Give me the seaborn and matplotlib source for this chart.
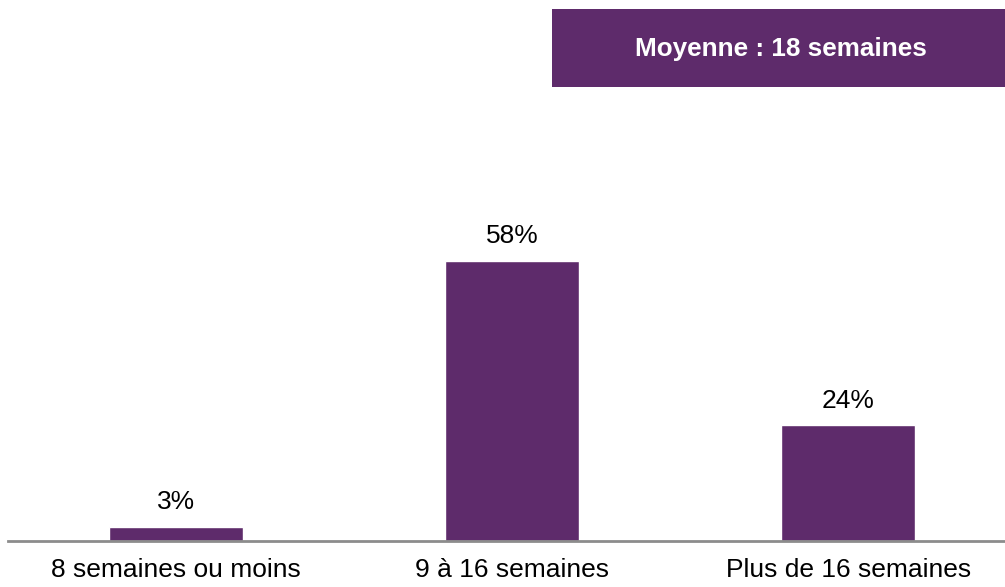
import matplotlib
matplotlib.use("Agg")
import matplotlib.pyplot as plt
import seaborn as sns
import pandas as pd

# Data
categories = ['8 semaines ou moins', '9 à 16 semaines', 'Plus de 16 semaines']
values = [3, 58, 24]
box_text = 'Moyenne : 18 semaines'

purple = '#5E2B6B'

sns.set_theme(style='white')
plt.rcParams['font.family'] = ['Liberation Sans', 'DejaVu Sans']

df = pd.DataFrame({'cat': categories, 'val': values})

fig = plt.figure(figsize=(10.05, 5.87), dpi=100)
ax = fig.add_axes([8 / 1005, 46 / 587, 997 / 1005, 483 / 587])

sns.barplot(data=df, x='cat', y='val', color=purple, width=0.4, saturation=1, ax=ax)

ax.set_xlim(-0.5, 2.467)
ax.set_ylim(0, 100)
ax.set_xlabel('')
ax.set_ylabel('')
ax.set_yticks([])
for side in ['top', 'right', 'left']:
    ax.spines[side].set_visible(False)
ax.spines['bottom'].set_color('#8c8c8c')
ax.spines['bottom'].set_linewidth(2)
ax.tick_params(axis='x', length=0, pad=12, labelsize=19, labelcolor='black')

for cont in ax.containers:
    ax.bar_label(cont, labels=[f'{v}%' for v in values], padding=9, fontsize=19, color='black')

# Box with average
fig.patches.append(plt.Rectangle((552 / 1005, 1 - 87 / 587), 1 - 552 / 1005, 78 / 587,
                                 transform=fig.transFigure, facecolor=purple, edgecolor='none'))
fig.text(781 / 1005, 1 - 49 / 587, box_text, ha='center', va='center',
         fontsize=18.8, fontweight='bold', color='white')

fig.savefig('out.png', dpi=100)
